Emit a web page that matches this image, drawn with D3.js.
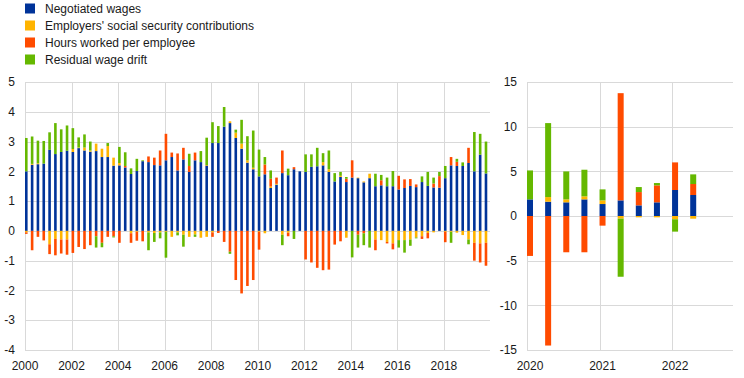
<!DOCTYPE html>
<html>
<head>
<meta charset="utf-8">
<script src="https://cdn.jsdelivr.net/npm/d3@7"></script>
<style>
  html, body { margin: 0; padding: 0; background: #fff; }
  svg { display: block; font-family: "Liberation Sans", Arial, sans-serif; }
</style>
</head>
<body>
<svg id="chart" width="744" height="378"></svg>
<script>
// ---------- DATA ----------
const seriesNames = ["Negotiated wages", "Employers' social security contributions", "Hours worked per employee", "Residual wage drift"];
const seriesKeys = ["negotiated", "ssc", "hours", "drift"];

// Left panel: quarterly 2000Q1 - 2019Q4
const leftYears = d3.range(2000, 2020);
const leftNegotiated = [
  2.00, 2.22, 2.24, 2.26,  2.72, 2.58, 2.65, 2.69,  2.65, 2.78, 2.70, 2.66,  2.68, 2.48, 2.48, 2.19,
  2.20, 2.13, 1.91, 2.01,  2.34, 2.31, 2.21, 2.20,  2.37, 2.48, 2.03, 2.40,  1.98, 2.37, 2.31, 2.18,
  2.95, 2.95, 3.50, 3.62,  3.12, 2.76, 2.29, 2.07,  1.83, 1.90, 1.44, 1.55,  1.94, 1.87, 2.07, 2.00,
  1.98, 2.15, 2.17, 2.20,  1.98, 1.66, 1.81, 1.64,  1.79, 1.77, 1.63, 1.77,  1.50, 1.53, 1.50, 1.50,
  1.39, 1.44, 1.51, 1.47,  1.64, 1.51, 1.46, 1.45,  1.77, 2.20, 2.18, 2.18,  2.28, 2.00, 2.56, 1.93
];
const leftSSC = [
  -0.05, 0.03, 0.03, 0.00,  -0.45, -0.27, -0.29, -0.29,  0.10, 0.02, 0.10, 0.04,  0.25, 0.28, 0.37, 0.27,
  0.08, 0.00, -0.08, -0.03,  0.00, -0.05, -0.07, -0.05,  -0.03, -0.20, -0.05, -0.13,  -0.20, -0.12, -0.23, -0.20,
  -0.05, 0.00, 0.00, 0.06,  0.18, 0.17, 0.08, 0.05,  -0.03, -0.08, 0.05, 0.03,  -0.13, -0.06, 0.00, 0.00,
  0.00, 0.00, 0.00, 0.11,  0.09, 0.00, 0.04, -0.23,  0.00, 0.02, 0.03, 0.15,  -0.29, -0.31, -0.37, -0.42,
  -0.31, -0.31, -0.29, -0.22,  -0.18, -0.07, -0.05, 0.00,  -0.03, -0.03, -0.06, -0.14,  -0.29, -0.40, -0.42, -0.40
];
const leftHours = [
  -0.05, -0.65, -0.20, -0.32,  -0.33, -0.55, -0.47, -0.51,  -0.74, -0.54, -0.61, -0.48,  -0.18, -0.40, -0.20, -0.18,
  -0.40, 0.05, -0.32, -0.30,  -0.35, 0.19, 0.25, 0.50,  0.89, 0.15, 0.57, 0.39,  0.20, 0.26, 0.00, 0.02,
  -0.15, -0.07, -0.37, -0.70,  -1.65, -2.10, -1.85, -1.65,  -0.60, 0.33, 0.26, 0.21,  0.76, -0.12, 0.07, 0.00,
  -0.96, -1.06, -1.24, -1.32,  -1.30, -0.46, -0.35, 0.11,  0.58, -0.13, -0.08, 0.00,  -0.36, 0.17, -0.05, -0.20,
  0.46, 0.29, 0.23, 0.09,  -0.09, -0.18, 0.13, 0.39,  -0.35, 0.28, 0.14, 0.00,  0.51, -0.60, -0.64, -0.77
];
const leftDrift = [
  1.12, 0.92, 0.76, 0.76,  0.59, 1.04, 0.76, 0.85,  0.70, 0.34, 0.44, 0.30,  -0.38, -0.15, 0.10, -0.04,
  0.54, 0.46, 0.19, 0.41,  0.03, -0.60, -0.30, -0.20,  -0.87, 0.00, -0.10, -0.40,  0.41, -0.08, 0.37, 0.93,
  0.70, 0.57, 0.66, -0.07,  0.10, 0.80, 0.81, 1.25,  0.90, 0.25, 0.28, 0.00,  -0.35, 0.22, -0.27, 0.00,
  0.59, 0.42, 0.62, 0.30,  0.63, 0.28, 0.13, 0.06,  -0.89, -0.43, -0.40, -0.56,  0.42, 0.18, 0.29, 0.51,
  -0.25, -0.42, -0.21, -0.03,  0.19, 0.47, 0.20, 0.14,  0.41, -0.37, 0.10, 0.12,  -0.16, 1.32, 0.70, 1.07
];
const leftYTicks = [5, 4, 3, 2, 1, 0, -1, -2, -3, -4];
const leftXTicks = [2000, 2002, 2004, 2006, 2008, 2010, 2012, 2014, 2016, 2018];

// Right panel: quarterly 2020Q1 - 2022Q2
const rightNegotiated = [1.86, 1.60, 1.53, 1.86, 1.34, 1.75, 1.19, 1.53, 2.91, 2.35];
const rightSSC        = [0.00, 0.52, 0.33, 0.34, 0.41, -0.30, -0.15, -0.15, -0.37, -0.30];
const rightHours      = [-4.47, -14.5, -4.06, -4.06, -1.08, 12.0, 1.49, 1.90, 3.09, 1.23];
const rightDrift      = [3.24, 8.28, 3.13, 2.98, 1.23, -6.50, 0.56, 0.26, -1.38, 1.08];
const rightYTicks = [15, 10, 5, 0, -5, -10, -15];
const rightXTicks = [2020, 2021, 2022];

// ---------- STYLE ----------
const colors = ["#003399", "#ffb400", "#ff4b00", "#65b800"];
const gridColor = "#d9d9d9";
const textColor = "#1a1a1a";

const svg = d3.select("#chart");

function buildRows(startYear, arrays) {
  const n = arrays[0].length;
  return d3.range(n).map(i => {
    const row = { t: startYear + i / 4 };
    seriesKeys.forEach((k, j) => row[k] = arrays[j][i]);
    return row;
  });
}

function drawPanel(opts) {
  const { rows, xDomain, xRange, yDomain, yRange, yTicks, xTicks, barW, yLabelX, xLabelDx, gridRight } = opts;
  const x = d3.scaleLinear().domain(xDomain).range(xRange);
  const y = d3.scaleLinear().domain(yDomain).range(yRange);
  const g = svg.append("g");

  // horizontal gridlines
  g.selectAll(".hg").data(yTicks).enter().append("line")
    .attr("x1", xRange[0]).attr("x2", gridRight)
    .attr("y1", d => Math.round(y(d)) + 0.5).attr("y2", d => Math.round(y(d)) + 0.5)
    .attr("stroke", gridColor).attr("stroke-width", 1);
  // vertical gridlines
  g.selectAll(".vg").data(xTicks).enter().append("line")
    .attr("x1", d => Math.round(x(d)) + 0.5).attr("x2", d => Math.round(x(d)) + 0.5)
    .attr("y1", yRange[1]).attr("y2", yRange[0])
    .attr("stroke", gridColor).attr("stroke-width", 1);

  // stacked bars
  const stack = d3.stack().keys(seriesKeys).offset(d3.stackOffsetDiverging);
  const layers = stack(rows);
  g.selectAll(".layer").data(layers).enter().append("g")
    .attr("fill", (d, i) => colors[i])
    .selectAll("rect").data(d => d).enter().append("rect")
    .attr("x", d => x(d.data.t))
    .attr("width", barW)
    .attr("y", d => y(Math.max(d[0], d[1])))
    .attr("height", d => Math.abs(y(d[0]) - y(d[1])));

  // y tick labels
  g.selectAll(".yl").data(yTicks).enter().append("text")
    .attr("x", yLabelX).attr("y", d => y(d)).attr("dy", "0.35em")
    .attr("text-anchor", "end").attr("font-size", 12).attr("fill", textColor)
    .text(d => d);
  // x tick labels
  g.selectAll(".xl").data(xTicks).enter().append("text")
    .attr("x", d => x(d) + xLabelDx).attr("y", 370)
    .attr("text-anchor", "middle").attr("font-size", 12).attr("fill", textColor)
    .text(d => d);
}

drawPanel({
  rows: buildRows(2000, [leftNegotiated, leftSSC, leftHours, leftDrift]),
  xDomain: [2000, 2020], xRange: [25, 490.5],
  yDomain: [-4, 5], yRange: [350, 82],
  yTicks: leftYTicks, xTicks: leftXTicks,
  barW: 2.6, yLabelX: 15, xLabelDx: 0, gridRight: 490
});

drawPanel({
  rows: buildRows(2020, [rightNegotiated, rightSSC, rightHours, rightDrift]),
  xDomain: [2020, 2022.84], xRange: [527, 733],
  yDomain: [-15, 15], yRange: [350, 82],
  yTicks: rightYTicks, xTicks: rightXTicks,
  barW: 6, yLabelX: 517, xLabelDx: 3, gridRight: 733
});

// legend
const legend = svg.append("g");
seriesNames.forEach((name, i) => {
  const cy = 8.5 + i * 17;
  legend.append("rect").attr("x", 25).attr("y", cy - 5).attr("width", 10).attr("height", 10).attr("fill", colors[i]);
  legend.append("text").attr("x", 45).attr("y", cy).attr("dy", "0.35em")
    .attr("font-size", 12).attr("fill", textColor).text(name);
});
</script>
</body>
</html>
